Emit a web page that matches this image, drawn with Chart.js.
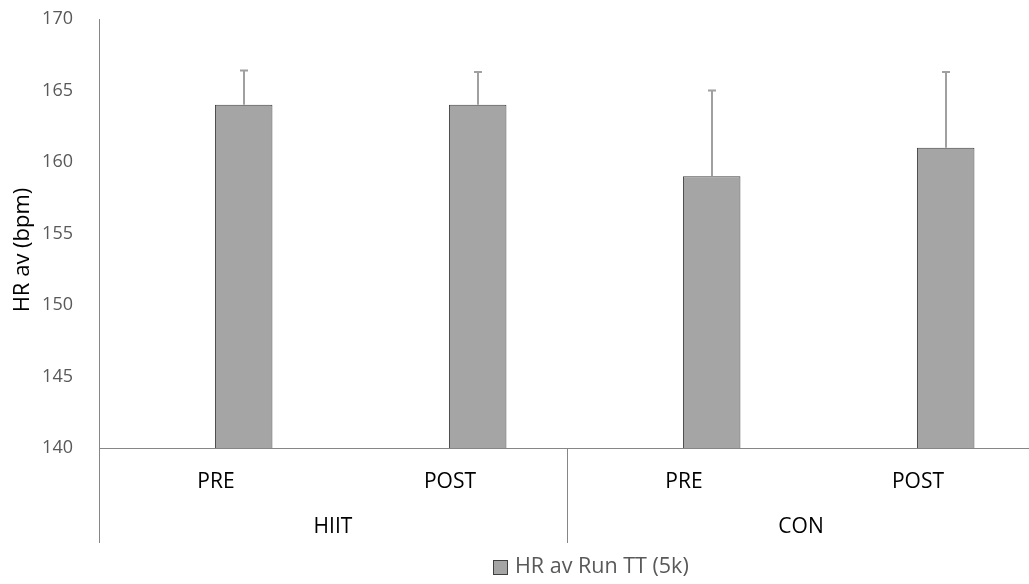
<!DOCTYPE html>
<html>
<head>
<meta charset="utf-8">
<script src="https://cdn.jsdelivr.net/npm/chart.js@4.4.1/dist/chart.umd.min.js"></script>
<style>
    html, body { margin: 0; padding: 0; background: #fff; overflow: hidden; }
    #wrap { width: 1040px; height: 584px; }
</style>
</head>
<body>
<div id="wrap"><canvas id="hrChart" width="1040" height="584"></canvas></div>
<script>
// ---------------- DATA ----------------
const phases = ["PRE", "POST", "PRE", "POST"];
const groups = ["HIIT", "CON"];
const groupOf = [0, 0, 1, 1];
const hrMeans = [164, 164, 159, 161];
const hrErrors = [2.4, 2.3, 6.0, 5.3];
const yMin = 140, yMax = 170, yStep = 5;
const seriesName = "HR av Run TT (5k)";
const yTitle = "HR av (bpm)";

const FONT = "'Open Sans', 'Noto Sans', sans-serif";
const barFill = "#a5a5a5";
const barEdge = "#404040";
const axisGray = "#868686";

// ---------------- EXTRAS: dividers, group labels, error bars, legend ----------------
const extras = {
    id: "extras",
    afterDatasetsDraw(chart) {
        const ctx = chart.ctx;
        const xs = chart.scales.x, ys = chart.scales.y;
        const area = chart.chartArea;
        const catW = xs.width / phases.length;
        const lowY = 543;

        ctx.save();

        // error bars (plus direction only)
        const meta = chart.getDatasetMeta(1);
        ctx.strokeStyle = "#a0a0a0";
        ctx.lineWidth = 2;
        meta.data.forEach((bar, i) => {
            const yTop = ys.getPixelForValue(hrMeans[i] + hrErrors[i]);
            const yBar = ys.getPixelForValue(hrMeans[i]);
            const x = Math.round(bar.x);
            ctx.beginPath();
            ctx.moveTo(x, yBar);
            ctx.lineTo(x, yTop);
            ctx.moveTo(x - 4, yTop);
            ctx.lineTo(x + 4, yTop);
            ctx.stroke();
        });

        // vertical dividers under the axis
        ctx.strokeStyle = axisGray;
        ctx.lineWidth = 1;
        let cuts = [0];
        for (let i = 1; i < groupOf.length; i++) {
            if (groupOf[i] !== groupOf[i - 1]) cuts.push(i);
        }
        cuts.push(groupOf.length);
        cuts.forEach(c => {
            const x = Math.round(xs.getPixelForValue(c) - catW / 2) + 0.5;
            ctx.beginPath();
            ctx.moveTo(x, area.bottom);
            ctx.lineTo(x, lowY);
            ctx.stroke();
        });

        // group labels
        ctx.fillStyle = "#000";
        ctx.font = "21px " + FONT;
        ctx.textAlign = "center";
        ctx.textBaseline = "middle";
        groups.forEach((g, gi) => {
            const idx = groupOf.map((v, i) => v === gi ? i : -1).filter(i => i >= 0);
            const x0 = xs.getPixelForValue(idx[0]) - catW / 2;
            const x1 = xs.getPixelForValue(idx[idx.length - 1]) + catW / 2;
            ctx.fillText(g, (x0 + x1) / 2, 527);
        });

        // y title
        ctx.save();
        ctx.font = "22px " + FONT;
        ctx.translate(23, 250);
        ctx.rotate(-Math.PI / 2);
        ctx.fillText(yTitle, 0, 0);
        ctx.restore();

        // legend
        ctx.font = "21.5px " + FONT;
        ctx.textAlign = "left";
        ctx.fillStyle = barFill;
        ctx.fillRect(494, 561, 13, 13);
        ctx.strokeStyle = barEdge;
        ctx.strokeRect(493.5, 560.5, 14, 14);
        ctx.fillStyle = "#595959";
        ctx.fillText(seriesName, 515, 567);

        ctx.restore();
    }
};

// ---------------- CHART ----------------
new Chart(document.getElementById("hrChart"), {
    type: "bar",
    data: {
        labels: phases,
        datasets: [
            { label: "", data: phases.map(() => null) },
            {
                label: seriesName,
                data: hrMeans,
                backgroundColor: barFill,
                borderColor: barEdge,
                borderWidth: 1
            }
        ]
    },
    options: {
        responsive: false,
        animation: false,
        categoryPercentage: 0.4735,
        barPercentage: 1.038,
        layout: { padding: { top: 19, right: 5, bottom: 41, left: 0 } },
        plugins: {
            legend: { display: false },
            tooltip: { enabled: false }
        },
        scales: {
            x: {
                grid: { display: false, drawTicks: false },
                border: { display: true, color: axisGray, width: 1 },
                ticks: { color: "#000", font: { family: FONT, size: 21 }, padding: 21, maxRotation: 0 },
                afterFit: s => { s.height = 95; s.paddingTop = 0; s.paddingBottom = 0; }
            },
            y: {
                min: yMin,
                max: yMax,
                grid: { display: false, drawTicks: false },
                border: { display: true, color: axisGray, width: 1 },
                ticks: { stepSize: yStep, color: "#595959", font: { family: FONT, size: 18 }, padding: 26 },
                afterFit: s => { s.width = 99; s.paddingTop = 0; s.paddingBottom = 0; }
            }
        }
    },
    plugins: [extras]
});
</script>
</body>
</html>
